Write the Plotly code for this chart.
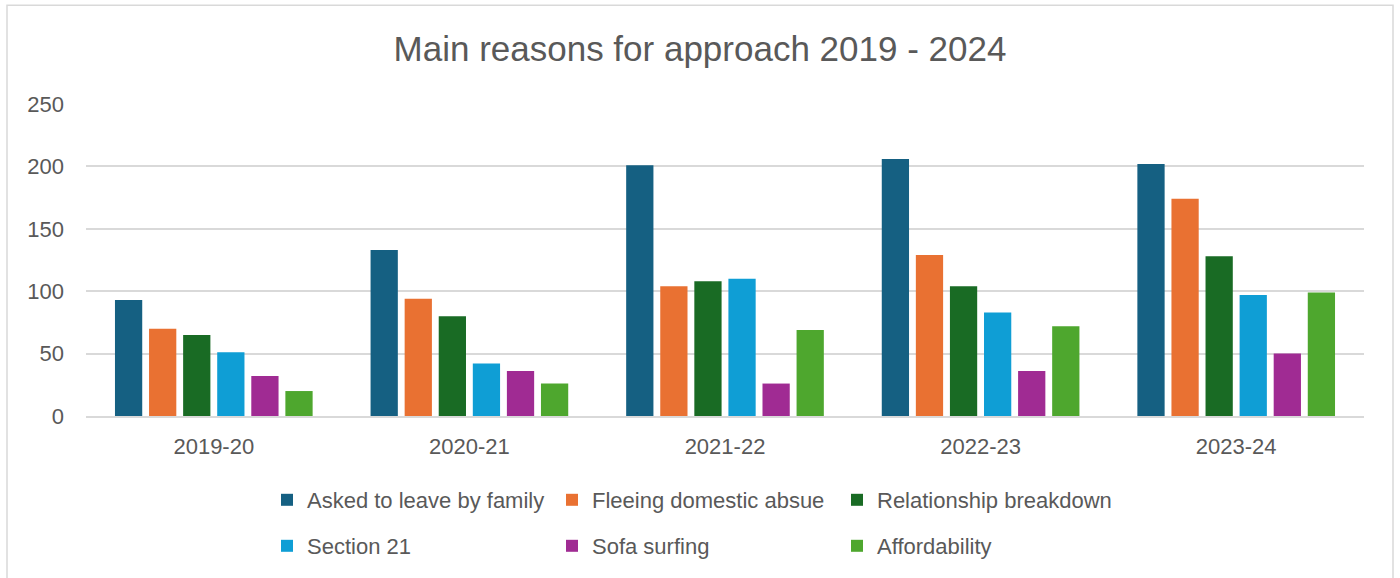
import plotly.graph_objects as go

years = ["2019-20", "2020-21", "2021-22", "2022-23", "2023-24"]
asked_to_leave = [93, 133, 201, 206, 202]
fleeing_da = [70, 94, 104, 129, 174]
relationship = [65, 80, 108, 104, 128]
section21 = [51, 42, 110, 83, 97]
sofa_surfing = [32, 36, 26, 36, 50]
affordability = [20, 26, 69, 72, 99]

series = [
    ("Asked to leave by family", asked_to_leave, "#156082", "legend"),
    ("Fleeing domestic absue", fleeing_da, "#E97132", "legend"),
    ("Relationship breakdown", relationship, "#196B24", "legend"),
    ("Section 21", section21, "#0F9ED5", "legend2"),
    ("Sofa surfing", sofa_surfing, "#A02B93", "legend2"),
    ("Affordability", affordability, "#4EA72E", "legend2"),
]

FONT = "Liberation Sans"
TXT = "#595959"

fig = go.Figure()
for name, vals, color, lg in series:
    fig.add_trace(go.Bar(x=years, y=vals, name=name, marker_color=color,
                         marker_line_width=0, legend=lg))

L, R, T, B = 86, 36, 104, 161
W, H = 1400, 578
pw, ph = W - L - R, H - T - B

def px_to_paper_x(px):
    return (px - L) / pw

def px_to_paper_y(py):
    return (H - B - py) / ph

legend_common = dict(orientation="h", entrywidth=240, entrywidthmode="pixels",
                     xanchor="left", yanchor="middle",
                     font=dict(family=FONT, size=22, color=TXT),
                     bgcolor="rgba(0,0,0,0)", itemclick=False)

fig.update_layout(
    width=W, height=H,
    margin=dict(l=L, r=R, t=T, b=B),
    paper_bgcolor="white", plot_bgcolor="white",
    barmode="group", bargap=0.2, bargroupgap=0.2,
    title=dict(text="Main reasons for approach 2019 - 2024", x=0.5, xref="container",
               xanchor="center", y=1 - 49 / H, yanchor="middle",
               font=dict(family=FONT, size=35, color=TXT)),
    font=dict(family=FONT, color=TXT),
    legend=dict(x=px_to_paper_x(267), y=px_to_paper_y(500), **legend_common),
    legend2=dict(x=px_to_paper_x(267), y=px_to_paper_y(546), **legend_common),
    shapes=[dict(type="rect", xref="paper", yref="paper",
                 x0=px_to_paper_x(7), x1=px_to_paper_x(1393),
                 y0=px_to_paper_y(600), y1=px_to_paper_y(5),
                 line=dict(color="#D9D9D9", width=1.5), fillcolor="rgba(0,0,0,0)",
                 layer="below")],
)
fig.update_xaxes(showgrid=False, showline=True, linecolor="#D9D9D9", linewidth=1.5,
                 ticks="", ticklabelstandoff=10,
                 tickfont=dict(family=FONT, size=22, color=TXT))
fig.update_yaxes(range=[0, 250], dtick=50, showgrid=True, gridcolor="#D9D9D9",
                 gridwidth=1.5, zeroline=False, showline=False, ticks="",
                 ticklabelstandoff=21,
                 tickfont=dict(family=FONT, size=22, color=TXT))

fig.write_html("out.html", config={"displayModeBar": False},
               post_script="document.body.style.margin='0';")
